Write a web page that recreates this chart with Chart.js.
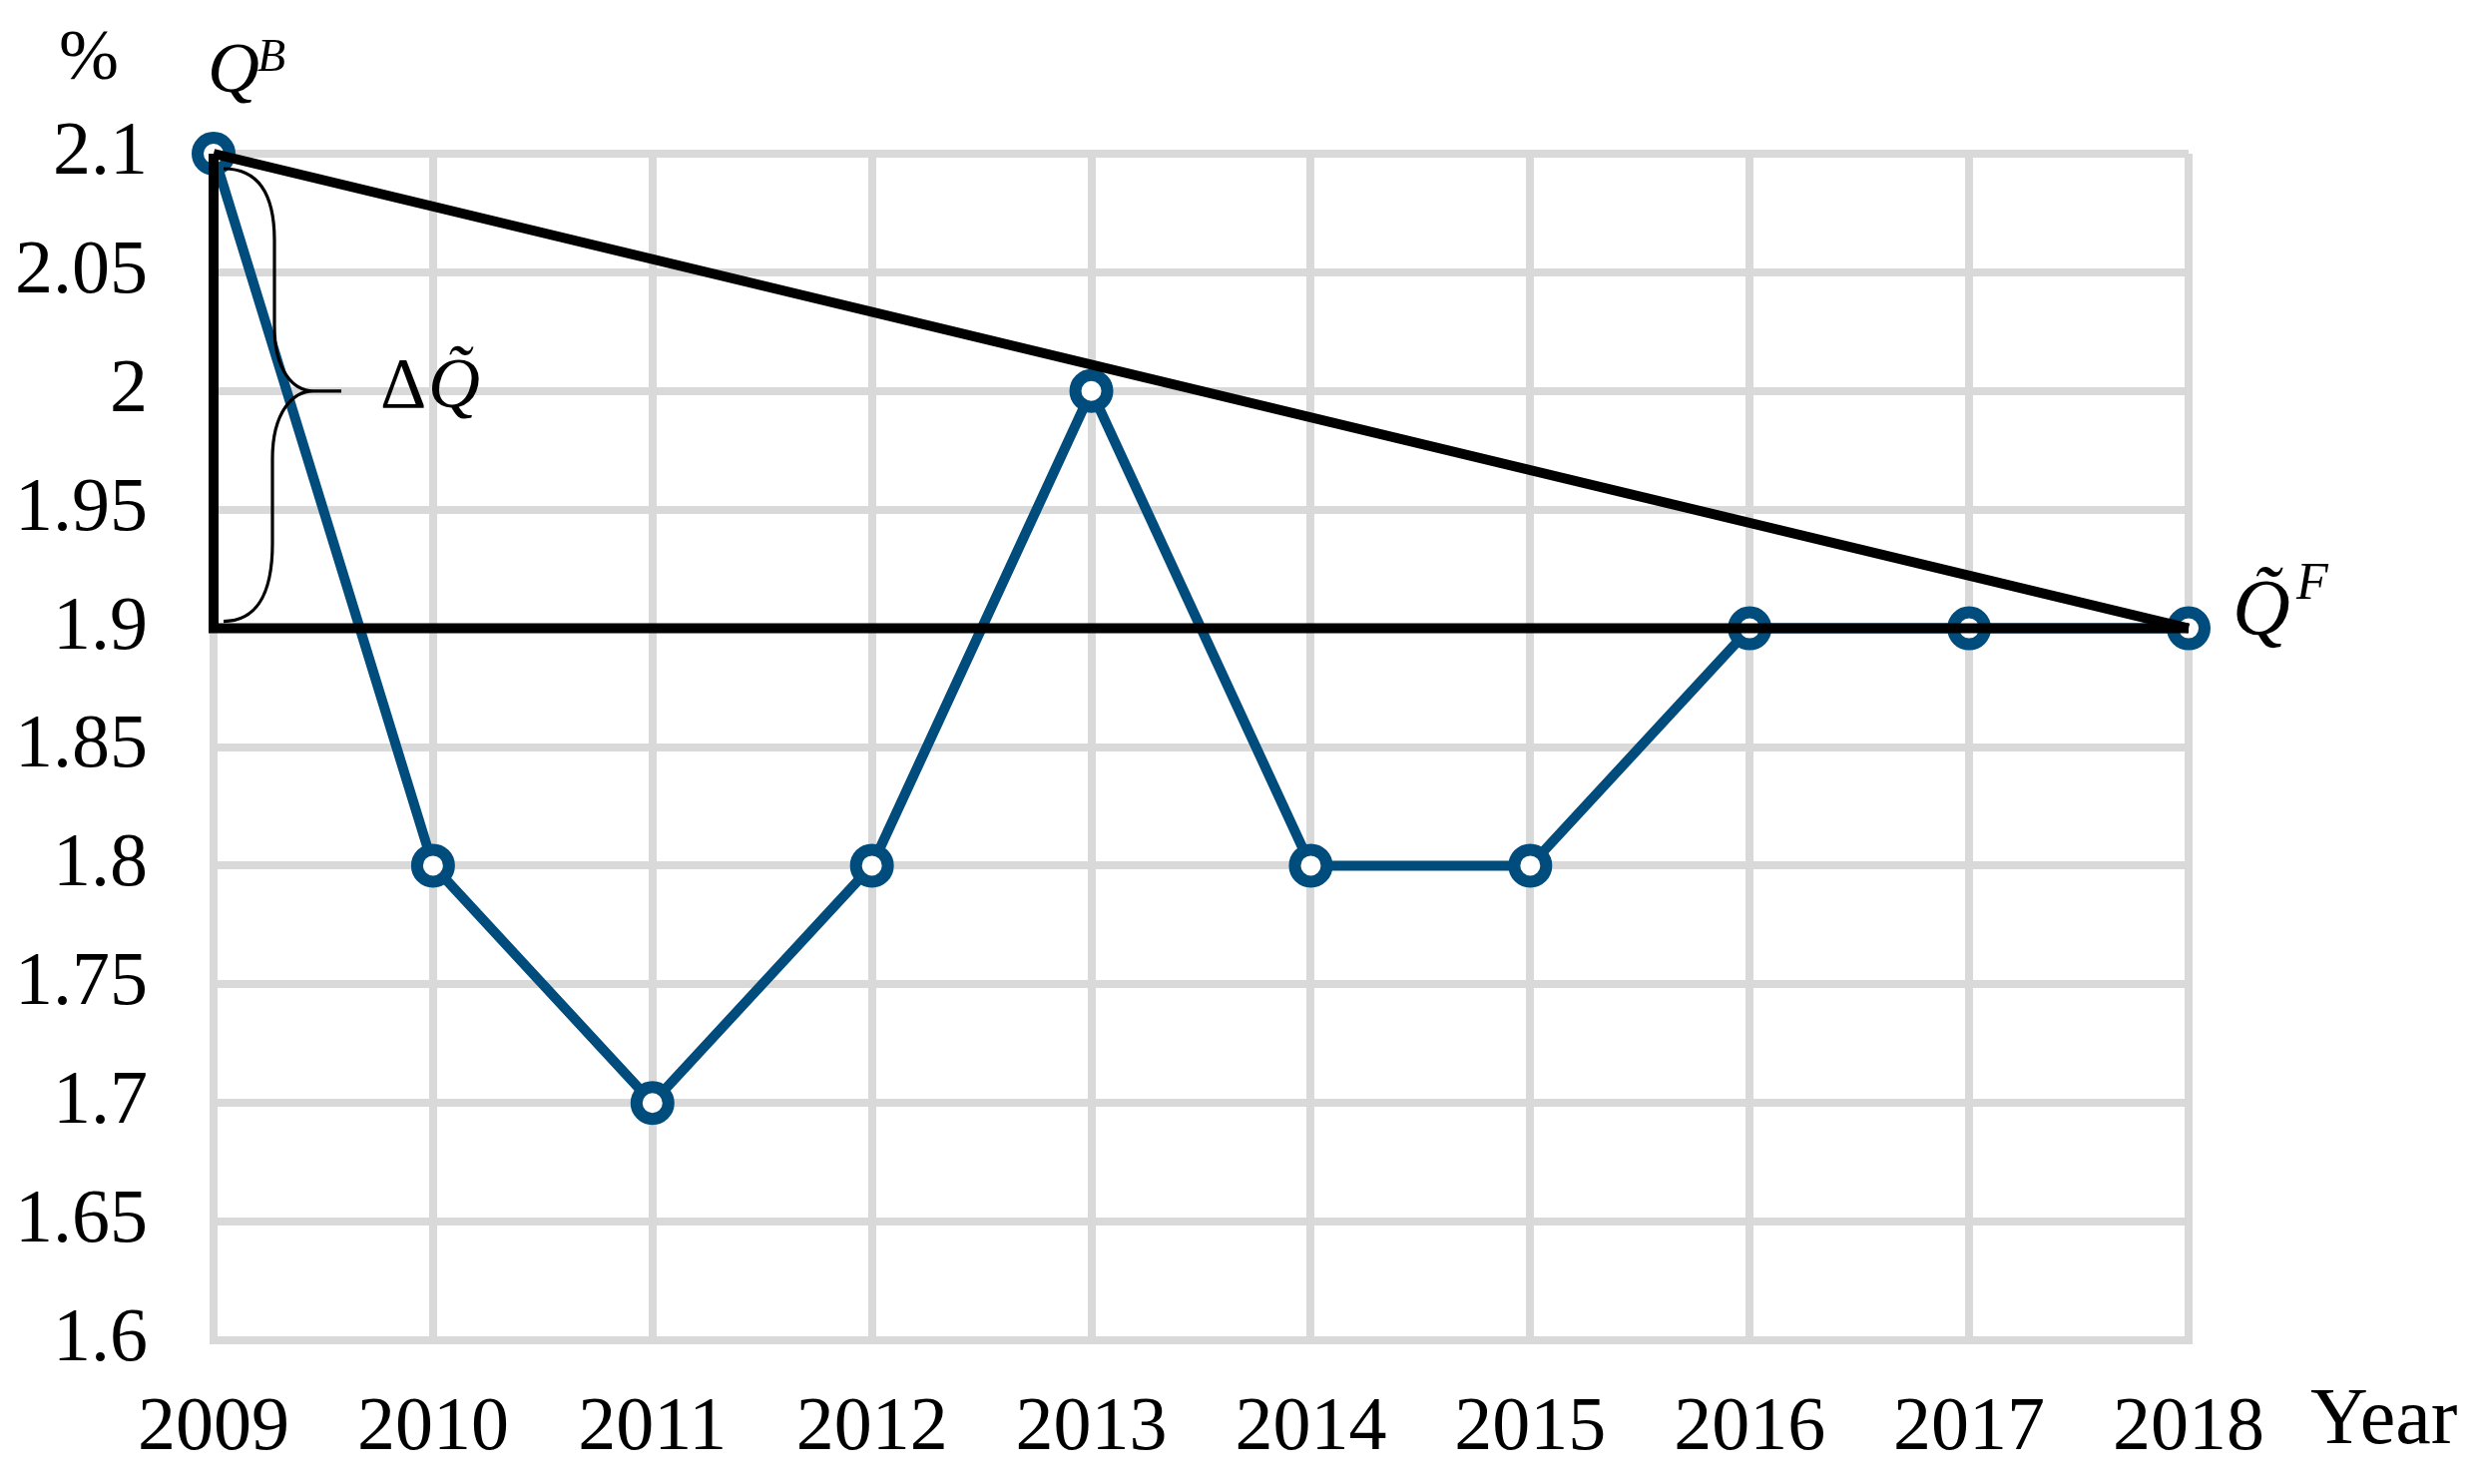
<!DOCTYPE html>
<html>
<head>
<meta charset="utf-8">
<script src="https://cdn.jsdelivr.net/npm/chart.js@4"></script>
<style>
  body { margin: 0; background: #fff; }
  #wrap { width: 2490px; height: 1487px; }
</style>
</head>
<body>
<div id="wrap"><canvas id="qualityChart" width="2490" height="1487"></canvas></div>
<script>
// data
var years = [2009, 2010, 2011, 2012, 2013, 2014, 2015, 2016, 2017, 2018];
var values = [2.1, 1.8, 1.7, 1.8, 2.0, 1.8, 1.8, 1.9, 1.9, 1.9];
var yTicks = [1.6, 1.65, 1.7, 1.75, 1.8, 1.85, 1.9, 1.95, 2.0, 2.05, 2.1];
// right angle of the triangle: QF -> base corner -> QB
var legX = [2018, 2009, 2009];
var legY = [1.9, 1.9, 2.1];
// hypotenuse QB -> QF
var diagX = [2009, 2018];
var diagY = [2.1, 1.9];

var serif = '"Liberation Serif", "Times New Roman", serif';
var blue = '#004C7C';
var gridGray = '#D9D9D9';

function points(xs, ys) {
  return xs.map(function(v, i) { return { x: v, y: ys[i] }; });
}

var annotations = {
  id: 'annotations',
  afterDatasetsDraw: function(chart) {
    var ctx = chart.ctx;
    var x = chart.scales.x, y = chart.scales.y;
    var x0 = x.getPixelForValue(2009), x1 = x.getPixelForValue(2018);
    var yTop = y.getPixelForValue(2.1), yMid = y.getPixelForValue(2.0), yBase = y.getPixelForValue(1.9);
    var bottom = chart.chartArea.bottom;
    ctx.save();
    ctx.fillStyle = '#000';
    ctx.textBaseline = 'alphabetic';
    ctx.textAlign = 'left';

    // unit
    ctx.font = '72px ' + serif;
    ctx.fillText('%', x0 - 155, yTop - 75);

    // Q^B
    ctx.font = 'italic 72px ' + serif;
    ctx.fillText('Q', x0 - 6, yTop - 62);
    ctx.font = 'italic 46px ' + serif;
    ctx.fillText('B', x0 + 44, yTop - 83);

    // delta Q tilde
    ctx.font = '72px ' + serif;
    ctx.fillText('\u0394', x0 + 167, yMid + 16);
    ctx.font = 'italic 72px ' + serif;
    ctx.fillText('Q\u0303', x0 + 215, yMid + 16);

    // Q tilde ^F
    ctx.font = 'italic 80px ' + serif;
    ctx.fillText('Q\u0303', x1 + 44, yBase + 6);
    ctx.font = 'italic 52px ' + serif;
    ctx.fillText('F', x1 + 108, yBase - 30);

    // axis title
    ctx.font = '80px ' + serif;
    ctx.fillText('Year', x1 + 122, bottom + 103);

    // brace
    ctx.strokeStyle = '#000';
    ctx.lineWidth = 3.2;
    ctx.beginPath();
    ctx.moveTo(x0 + 10, yTop + 15);
    ctx.bezierCurveTo(x0 + 45, yTop + 15, x0 + 61, yTop + 40, x0 + 61, yTop + 87);
    ctx.lineTo(x0 + 61, yMid - 65);
    ctx.bezierCurveTo(x0 + 61, yMid - 20, x0 + 80, yMid, x0 + 100, yMid);
    ctx.lineTo(x0 + 128, yMid);
    ctx.moveTo(x0 + 100, yMid);
    ctx.bezierCurveTo(x0 + 80, yMid, x0 + 59, yMid + 20, x0 + 59, yMid + 68);
    ctx.lineTo(x0 + 59, yBase - 85);
    ctx.bezierCurveTo(x0 + 59, yBase - 30, x0 + 40, yBase - 7, x0 + 10, yBase - 7);
    ctx.stroke();
    ctx.restore();
  }
};

var ctx = document.getElementById('qualityChart').getContext('2d');
var chart = new Chart(ctx, {
  type: 'line',
  data: {
    datasets: [{
      label: 'legs',
      data: points(legX, legY),
      borderColor: '#000',
      borderWidth: 10,
      pointRadius: 0,
      borderJoinStyle: 'miter',
      clip: false,
      fill: false
    }, {
      label: 'hypotenuse',
      data: points(diagX, diagY),
      borderColor: '#000',
      borderWidth: 10,
      pointRadius: 0,
      clip: false,
      fill: false
    }, {
      label: 'Q',
      data: points(years, values),
      borderColor: blue,
      borderWidth: 10,
      pointRadius: 16,
      pointBorderWidth: 12,
      pointBackgroundColor: '#fff',
      pointBorderColor: blue,
      borderJoinStyle: 'round',
      clip: false,
      fill: false
    }]
  },
  options: {
    responsive: false,
    animation: false,
    devicePixelRatio: 1,
    layout: { padding: { top: 154, right: 297, bottom: 0, left: 0 } },
    plugins: {
      legend: { display: false },
      tooltip: { enabled: false },
      title: { display: false }
    },
    scales: {
      x: {
        type: 'linear',
        min: 2009,
        max: 2018,
        afterBuildTicks: function(scale) {
          scale.ticks = years.map(function(v) { return { value: v }; });
        },
        afterFit: function(scale) { scale.height = 144; },
        grid: { color: gridGray, lineWidth: 8, drawTicks: false },
        border: { color: gridGray, width: 8 },
        ticks: {
          color: '#000',
          padding: 43,
          maxRotation: 0,
          autoSkip: false,
          font: { family: serif, size: 76 },
          callback: function(v) { return String(v); }
        }
      },
      y: {
        min: 1.6,
        max: 2.1,
        afterBuildTicks: function(scale) {
          scale.ticks = yTicks.map(function(v) { return { value: v }; });
        },
        afterFit: function(scale) { scale.width = 214; },
        grid: { color: gridGray, lineWidth: 8, drawTicks: false },
        border: { color: gridGray, width: 8 },
        ticks: {
          color: '#000',
          padding: 66,
          autoSkip: false,
          font: { family: serif, size: 76 },
          callback: function(v) { return String(Math.round(v * 100) / 100); }
        }
      }
    }
  },
  plugins: [annotations]
});
</script>
</body>
</html>
